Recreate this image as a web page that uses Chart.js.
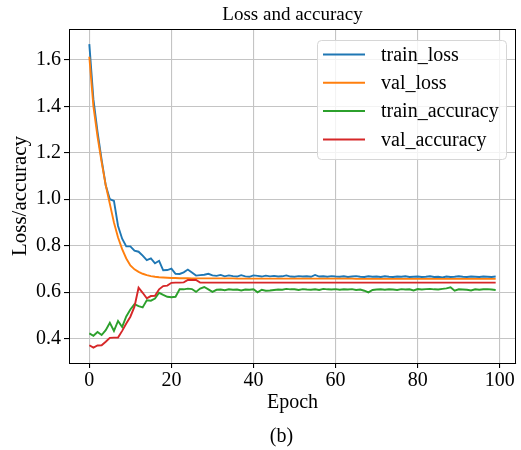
<!DOCTYPE html>
<html>
<head>
<meta charset="utf-8">
<script src="https://cdn.jsdelivr.net/npm/chart.js@4/dist/chart.umd.min.js"></script>
<style>
  html, body { margin: 0; padding: 0; background: #fff; }
  canvas { display: block; }
</style>
</head>
<body>
<canvas id="lossChart" width="521" height="450"></canvas>
<script>
/* =============================================
 * Loss and accuracy — training curves (b)
 * ============================================= */

// ── Data ──
const seriesNames = ['train_loss', 'val_loss', 'train_accuracy', 'val_accuracy'];
const seriesColors = ['#1f77b4', '#ff7f0e', '#2ca02c', '#d62728'];
const xTicks = [0, 20, 40, 60, 80, 100];
const yTicks = [0.4, 0.6, 0.8, 1.0, 1.2, 1.4, 1.6];

const trainLoss = [
    1.668, 1.430, 1.290, 1.170, 1.060, 1.000, 0.993, 0.885, 0.830, 0.797,
    0.797, 0.779, 0.774, 0.757, 0.738, 0.745, 0.724, 0.735, 0.694, 0.695,
    0.701, 0.679, 0.678, 0.685, 0.697, 0.684, 0.671, 0.673, 0.675, 0.679,
    0.672, 0.670, 0.674, 0.668, 0.672, 0.669, 0.667, 0.673, 0.668, 0.666,
    0.672, 0.670, 0.667, 0.671, 0.668, 0.670, 0.667, 0.668, 0.672, 0.667,
    0.666, 0.669, 0.667, 0.668, 0.666, 0.674, 0.667, 0.668, 0.666, 0.669,
    0.667, 0.666, 0.668, 0.665, 0.667, 0.669, 0.666, 0.665, 0.668, 0.666,
    0.667, 0.665, 0.668, 0.666, 0.665, 0.667, 0.666, 0.668, 0.665, 0.666,
    0.667, 0.665, 0.666, 0.668, 0.665, 0.666, 0.663, 0.667, 0.665, 0.666,
    0.668, 0.666, 0.665, 0.667, 0.666, 0.665, 0.667, 0.666, 0.665, 0.667
];
const valLoss = [
    1.614, 1.400, 1.270, 1.160, 1.060, 0.980, 0.900, 0.835, 0.785, 0.745,
    0.715, 0.698, 0.687, 0.679, 0.673, 0.669, 0.666, 0.664, 0.663, 0.662,
    0.661, 0.661, 0.660, 0.660, 0.660, 0.659, 0.659, 0.659, 0.659, 0.659,
    0.659, 0.659, 0.659, 0.659, 0.659, 0.659, 0.658, 0.658, 0.658, 0.658,
    0.658, 0.658, 0.658, 0.658, 0.658, 0.658, 0.658, 0.658, 0.658, 0.658,
    0.658, 0.658, 0.658, 0.658, 0.658, 0.658, 0.658, 0.658, 0.658, 0.658,
    0.658, 0.658, 0.658, 0.658, 0.658, 0.657, 0.657, 0.657, 0.657, 0.657,
    0.657, 0.657, 0.657, 0.657, 0.657, 0.657, 0.657, 0.657, 0.657, 0.657,
    0.657, 0.657, 0.657, 0.657, 0.657, 0.657, 0.657, 0.657, 0.657, 0.657,
    0.657, 0.657, 0.657, 0.657, 0.657, 0.657, 0.657, 0.657, 0.657, 0.657
];
const trainAcc = [
    0.422, 0.412, 0.428, 0.415, 0.436, 0.468, 0.433, 0.476, 0.450, 0.495,
    0.525, 0.548, 0.540, 0.534, 0.565, 0.563, 0.572, 0.597, 0.588, 0.580,
    0.578, 0.580, 0.612, 0.612, 0.615, 0.613, 0.601, 0.615, 0.622, 0.612,
    0.601, 0.610, 0.611, 0.608, 0.612, 0.610, 0.611, 0.607, 0.611, 0.610,
    0.612, 0.599, 0.610, 0.606, 0.607, 0.609, 0.611, 0.610, 0.614, 0.612,
    0.612, 0.609, 0.613, 0.611, 0.610, 0.612, 0.609, 0.614, 0.612, 0.611,
    0.613, 0.610, 0.612, 0.611, 0.613, 0.609, 0.611, 0.606, 0.599, 0.609,
    0.611, 0.612, 0.610, 0.612, 0.611, 0.609, 0.613, 0.611, 0.612, 0.607,
    0.613, 0.611, 0.613, 0.614, 0.612, 0.611, 0.614, 0.616, 0.621, 0.606,
    0.612, 0.611, 0.610, 0.607, 0.612, 0.610, 0.612, 0.613, 0.611, 0.609
];
const valAcc = [
    0.371, 0.361, 0.370, 0.371, 0.386, 0.403, 0.404, 0.404, 0.433, 0.465,
    0.494, 0.537, 0.619, 0.597, 0.573, 0.583, 0.584, 0.612, 0.626, 0.628,
    0.640, 0.641, 0.641, 0.642, 0.652, 0.652, 0.652, 0.641, 0.641, 0.641,
    0.641, 0.641, 0.641, 0.641, 0.641, 0.641, 0.641, 0.641, 0.641, 0.641,
    0.641, 0.641, 0.641, 0.641, 0.641, 0.641, 0.641, 0.641, 0.641, 0.641,
    0.641, 0.641, 0.641, 0.641, 0.641, 0.641, 0.641, 0.641, 0.641, 0.641,
    0.641, 0.641, 0.641, 0.641, 0.641, 0.641, 0.641, 0.641, 0.641, 0.641,
    0.641, 0.641, 0.641, 0.641, 0.641, 0.641, 0.641, 0.641, 0.641, 0.641,
    0.641, 0.641, 0.641, 0.641, 0.641, 0.641, 0.641, 0.641, 0.641, 0.641,
    0.641, 0.641, 0.641, 0.641, 0.641, 0.641, 0.641, 0.641, 0.641, 0.641
];

const SERIF = "'Liberation Serif', 'DejaVu Serif', serif";
const seriesData = [trainLoss, valLoss, trainAcc, valAcc];

// ── Plugins: background, frame, texts, legend ──
const paperPlugin = {
    id: 'paper',
    beforeDraw(chart) {
        const c = chart.ctx;
        c.save();
        c.fillStyle = '#fff';
        c.fillRect(0, 0, chart.width, chart.height);
        c.restore();
    },
    afterDraw(chart) {
        const c = chart.ctx, a = chart.chartArea;
        c.save();
        // full box spines
        c.strokeStyle = '#000';
        c.lineWidth = 1;
        c.strokeRect(a.left + 0.5, a.top + 0.5, a.right - a.left - 1, a.bottom - a.top);

        // texts
        c.fillStyle = '#000';
        c.textAlign = 'center';
        c.textBaseline = 'middle';
        const midX = (a.left + a.right) / 2;
        c.font = '19px ' + SERIF;
        c.fillText('Loss and accuracy', midX, a.top - 14);
        c.font = '20px ' + SERIF;
        c.fillText('Epoch', midX, a.bottom + 40);
        c.fillText('(b)', midX - 11, a.bottom + 74);
        c.save();
        c.translate(20, (a.top + a.bottom) / 2);
        c.rotate(-Math.PI / 2);
        c.font = '21px ' + SERIF;
        c.fillText('Loss/accuracy', 0, 0);
        c.restore();

        // legend
        const bx = a.right - 199, by = a.top + 11, bw = 189, bh = 119;
        c.fillStyle = 'rgba(255,255,255,0.8)';
        c.strokeStyle = '#d6d6d6';
        c.lineWidth = 1;
        c.beginPath();
        c.roundRect(bx + 0.5, by + 0.5, bw, bh, 4);
        c.fill();
        c.stroke();
        c.textAlign = 'left';
        c.font = '20px ' + SERIF;
        chart.data.datasets.forEach((ds, i) => {
            const ry = by + 14.5 + i * 28.3;
            c.strokeStyle = ds.borderColor;
            c.lineWidth = 2;
            c.beginPath();
            c.moveTo(bx + 6, ry);
            c.lineTo(bx + 48, ry);
            c.stroke();
            c.fillStyle = '#000';
            c.fillText(ds.label, bx + 64, ry + 1);
        });
        c.restore();
    }
};

// ── Chart ──
const ctx = document.getElementById('lossChart').getContext('2d');
new Chart(ctx, {
    type: 'line',
    data: {
        datasets: seriesNames.map((name, i) => ({
            label: name,
            data: seriesData[i].map((v, e) => ({ x: e, y: v })),
            borderColor: seriesColors[i],
            backgroundColor: seriesColors[i],
            borderWidth: 1.9,
            pointRadius: 0,
            tension: 0,
            fill: false,
            order: seriesNames.length - i
        }))
    },
    options: {
        responsive: false,
        animation: false,
        devicePixelRatio: 1,
        layout: { padding: { top: 29, right: 5, left: 0, bottom: 0 } },
        plugins: { legend: { display: false }, tooltip: { enabled: false }, title: { display: false } },
        scales: {
            x: {
                type: 'linear', min: -4.95, max: 103.95,
                afterFit: s => { s.height = 87; },
                afterBuildTicks: s => { s.ticks = xTicks.map(v => ({ value: v })); },
                grid: { color: '#c4c4c4', lineWidth: 1.1, tickColor: '#000', tickLength: 5 },
                border: { color: '#000', width: 1 },
                ticks: { color: '#000', font: { family: SERIF, size: 20 }, padding: 1, maxRotation: 0,
                         callback: v => String(v) }
            },
            y: {
                type: 'linear', min: 0.2946, max: 1.7334,
                afterFit: s => { s.width = 69; },
                afterBuildTicks: s => { s.ticks = yTicks.map(v => ({ value: v })); },
                grid: { color: '#c4c4c4', lineWidth: 1.1, tickColor: '#000', tickLength: 5 },
                border: { color: '#000', width: 1 },
                ticks: { color: '#000', font: { family: SERIF, size: 20 }, padding: 3,
                         callback: v => Number(v).toFixed(1) }
            }
        }
    },
    plugins: [paperPlugin]
});
</script>
</body>
</html>
